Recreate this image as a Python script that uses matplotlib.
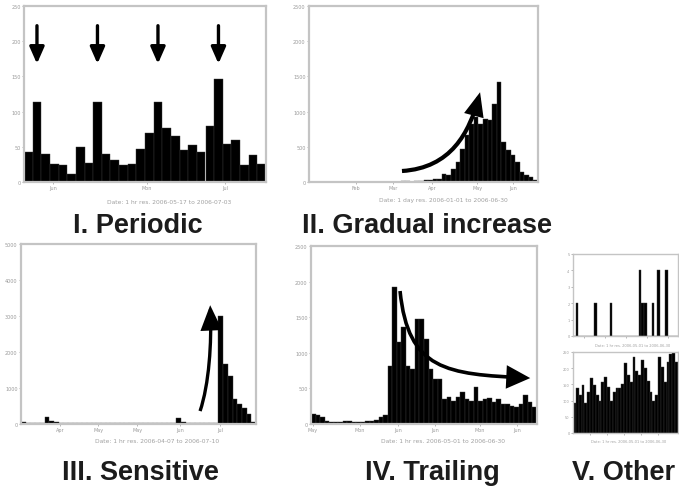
import matplotlib
matplotlib.use("Agg")
import matplotlib.pyplot as plt
import numpy as np
from matplotlib.path import Path
from matplotlib.patches import FancyArrowPatch, ArrowStyle

# ---------------- data ----------------
periodic_vals = [43, 114, 40, 26, 24, 11, 50, 27, 114, 40, 31, 24, 26, 47, 69,
                 114, 76, 66, 46, 53, 43, 79, 146, 54, 60, 24, 39, 26]
periodic_peaks = [1, 8, 15, 22]

gradual_vals = [7, 0, 7, 7, 0, 7, 0, 7, 7, 0, 7, 7, 0, 7, 7, 0, 7, 7, 7, 7,
                14, 14, 7, 14, 14, 28, 28, 43, 43, 114, 100, 185, 284, 469, 668,
                824, 923, 824, 895, 880, 1108, 1420, 568, 454, 383, 284, 142, 100, 71, 28]

sensitive_vals = [56, 28, 14, 14, 28, 195, 83, 56, 28, 28,
                  14, 28, 14, 14, 28, 14, 28, 14, 14, 28,
                  14, 14, 28, 14, 14, 28, 14, 14, 28, 14,
                  14, 28, 14, 167, 56, 14, 28, 14, 14, 28,
                  14, 14, 3000, 1670, 1335, 695, 556, 445, 278, 56]

trailing_vals = [140, 126, 98, 42, 28, 28, 28, 42, 42, 28, 28, 28, 42, 42, 56, 98, 126,
                 812, 1918, 1148, 1358, 812, 770, 1470, 1470, 1190, 770, 630, 630, 350,
                 378, 322, 378, 448, 350, 322, 518, 322, 350, 364, 308, 350, 280, 280,
                 252, 238, 280, 406, 308, 238]

other_top_vals = [0, 2, 0, 0, 0, 0, 0, 0, 2, 0, 0, 0, 0, 0, 2, 0, 0, 0, 0, 0,
                  0, 0, 0, 0, 0, 4, 2, 2, 0, 0, 2, 0, 4, 0, 0, 4, 0, 0, 0, 0]

other_bottom_vals = [92, 138, 118, 148, 92, 128, 170, 148, 118, 98, 158, 172, 142, 98,
                     128, 138, 138, 152, 215, 178, 158, 235, 190, 178, 225, 200, 162,
                     128, 98, 118, 235, 205, 158, 220, 245, 250, 220]

titles = ["I. Periodic", "II. Gradual increase", "III. Sensitive", "IV. Trailing", "V. Other"]
date_labels = ["Date: 1 hr res. 2006-05-17 to 2006-07-03",
               "Date: 1 day res. 2006-01-01 to 2006-06-30",
               "Date: 1 hr res. 2006-04-07 to 2006-07-10",
               "Date: 1 hr res. 2006-05-01 to 2006-06-30",
               "Date: 1 hr res. 2006-05-01 to 2006-06-30",
               "Date: 1 hr res. 2006-05-01 to 2006-06-30"]

# ---------------- figure ----------------
W, H = 679, 489
fig = plt.figure(figsize=(W / 100, H / 100), dpi=100)
fig.patch.set_facecolor("white")


def rect(l, t, r, b):
    return [l / W, 1 - b / H, (r - l) / W, (b - t) / H]


FRAME = "#c4c4c4"
TICKC = "#9a9a9a"


def hist_panel(r, vals, ymax, ystep, xticks, xticklabels, label, label_pos, small=False):
    ax = fig.add_axes(rect(*r))
    n = len(vals)
    ax.bar(np.arange(n), vals, width=1.0, align="edge", color="black",
           edgecolor="#3a3a3a", linewidth=0.3)
    ax.set_xlim(0, n)
    ax.set_ylim(0, ymax)
    yt = np.arange(0, ymax + ystep / 2, ystep)
    ax.set_yticks(yt)
    ax.set_yticklabels([f"{v:g}" for v in yt])
    ax.set_xticks(xticks)
    ax.set_xticklabels(xticklabels)
    fs = 2.5 if small else 3.5
    ax.tick_params(length=1.5, width=0.5, color=TICKC, labelcolor=TICKC,
                   labelsize=fs, pad=1)
    for s in ax.spines.values():
        s.set_color(FRAME)
        s.set_linewidth(1.0 if small else 1.6)
    ax.text(label_pos[0], label_pos[1], label, transform=ax.transAxes,
            ha="center", va="center", fontsize=2.6 if small else 4.3, color="#a0a0a0")
    return ax


def curved_arrow(ax, pts, lw, hl, hw):
    verts = list(pts)
    codes = [Path.MOVETO, Path.CURVE4, Path.CURVE4, Path.CURVE4]
    p = FancyArrowPatch(path=Path(verts, codes),
                        arrowstyle=ArrowStyle("-|>", head_length=hl, head_width=hw),
                        mutation_scale=20, lw=lw, color="black",
                        transform=ax.transAxes, clip_on=False, zorder=5,
                        joinstyle="miter", capstyle="butt")
    ax.add_patch(p)


# Panel I
ax1 = hist_panel((24, 7, 266, 183), periodic_vals, 250, 50,
                 [3.4, 14.2, 23.3], ["Jun", "Mon", "Jul"],
                 date_labels[0], (0.60, -0.108))
for b in periodic_peaks:
    ax1.annotate("", xy=(b + 0.5, 168), xytext=(b + 0.5, 222),
                 arrowprops=dict(arrowstyle="-|>,head_length=0.5,head_width=0.22",
                                 mutation_scale=20, lw=2.4, color="black",
                                 shrinkA=0, shrinkB=0))

# Panel II
ax2 = hist_panel((309, 7, 538, 183), gradual_vals, 2500, 500,
                 [10.3, 18.3, 26.9, 36.7, 44.5], ["Feb", "Mar", "Apr", "May", "Jun"],
                 date_labels[1], (0.587, -0.097))
curved_arrow(ax2, [(0.406, 0.0625), (0.62, 0.08), (0.70, 0.28), (0.747, 0.51)],
             lw=3.0, hl=0.6, hw=0.25)

# Panel III
ax3 = hist_panel((21, 245, 256, 425), sensitive_vals, 5000, 1000,
                 [8.3, 16.4, 24.7, 33.8, 42.3], ["Apr", "May", "May", "Jun", "Jul"],
                 date_labels[2], (0.577, -0.094))
curved_arrow(ax3, [(0.762, 0.072), (0.80, 0.22), (0.812, 0.45), (0.805, 0.66)],
             lw=2.4, hl=0.7, hw=0.3)

# Panel IV
ax4 = hist_panel((311, 247, 537, 425), trailing_vals, 2500, 500,
                 [0.4, 10.8, 19.2, 27.4, 37.4, 45.6],
                 ["May", "Mon", "Jun", "Jun", "Mon", "Jun"],
                 date_labels[3], (0.586, -0.095))
curved_arrow(ax4, [(0.394, 0.747), (0.43, 0.30), (0.60, 0.28), (0.97, 0.258)],
             lw=2.6, hl=0.65, hw=0.32)

# Panel V (two small)
ax5 = hist_panel((573, 255, 678, 337), other_top_vals, 5, 1,
                 [4, 12, 20, 28, 36], ["", "", "", "", ""],
                 date_labels[4], (0.57, -0.11), small=True)
ax6 = hist_panel((573, 353, 678, 434), other_bottom_vals, 250, 50,
                 [6, 12, 18, 24, 30], ["", "", "", "", ""],
                 date_labels[5], (0.53, -0.10), small=True)

# Titles
tkw = dict(fontsize=19.5, fontweight="bold", family=["Liberation Sans", "DejaVu Sans"],
           color="#1c1c1c", ha="center", va="baseline")
fig.text(138 / W, 1 - 233 / H, titles[0], **tkw)
fig.text(427 / W, 1 - 233 / H, titles[1], **tkw)
fig.text(140 / W, 1 - 480 / H, titles[2], **tkw)
fig.text(432 / W, 1 - 480 / H, titles[3], **tkw)
fig.text(624 / W, 1 - 480 / H, titles[4], **tkw)

fig.savefig("out.png", dpi=100, facecolor="white")
